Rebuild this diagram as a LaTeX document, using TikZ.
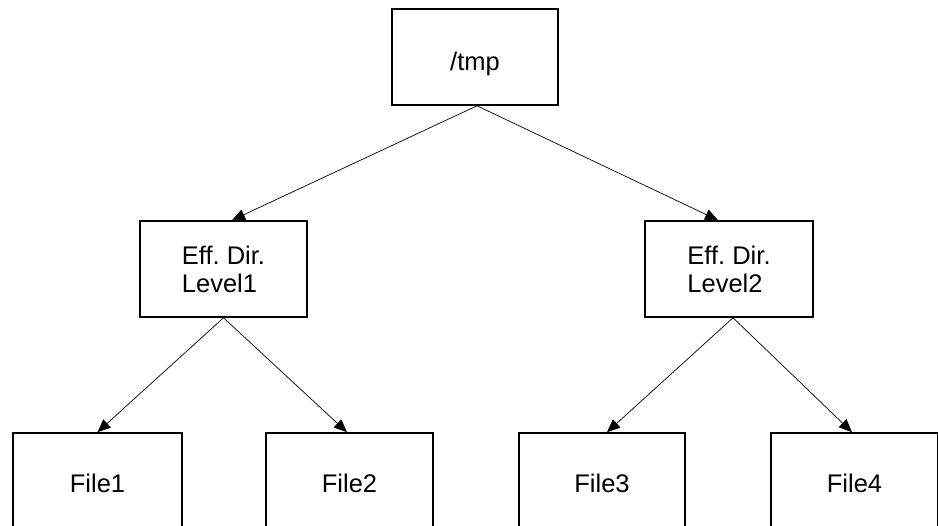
\documentclass[tikz,border=0pt]{standalone}
\usepackage{fontspec}
\setmainfont{Liberation Sans}
\usetikzlibrary{arrows.meta}
\frenchspacing

\tikzset{
  boxfont/.style={font=\fontsize{25.5}{28}\selectfont},
  box/.style={draw=black, line width=1.6pt, rectangle, inner sep=0pt,
              align=left, boxfont},
  link/.style={line width=0.7pt, -{Triangle[length=13pt,width=11pt]}}
}

\begin{document}
\begin{tikzpicture}[x=1pt, y=-1pt]
  \useasboundingbox (0,0) rectangle (938,526);
  \clip (0,0) rectangle (938,526);

  % root directory
  \node[box, minimum width=166pt, minimum height=96pt,
        label={[boxfont, yshift=-7pt]center:/tmp}]
        (tmp) at (475,57) {};

  % effective directory levels
  \node[box, minimum width=167pt, minimum height=96pt] (l1) at (223.5,269) {Eff. Dir.\\Level1};
  \node[box, minimum width=168pt, minimum height=96pt] (l2) at (729,269) {Eff. Dir.\\Level2};

  % files (cut off at the lower edge)
  \node[box, minimum width=169pt, minimum height=100pt] (f1) at (97.5,483) {File1};
  \node[box, minimum width=167pt, minimum height=100pt] (f2) at (349.5,483) {File2};
  \node[box, minimum width=166pt, minimum height=100pt] (f3) at (602,483) {File3};
  \node[box, minimum width=167pt, minimum height=100pt] (f4) at (854.5,483) {File4};

  % connectors
  \draw[link] ([xshift=2pt]tmp.south) -- ([xshift=8.5pt]l1.north);
  \draw[link] ([xshift=2pt]tmp.south) -- ([xshift=-11pt]l2.north);
  \draw[link] (l1.south) -- (f1.north);
  \draw[link] (l1.south) -- ([xshift=-2.5pt]f2.north);
  \draw[link] ([xshift=4pt]l2.south) -- ([xshift=5pt]f3.north);
  \draw[link] ([xshift=4pt]l2.south) -- ([xshift=-2.5pt]f4.north);
\end{tikzpicture}
\end{document}
